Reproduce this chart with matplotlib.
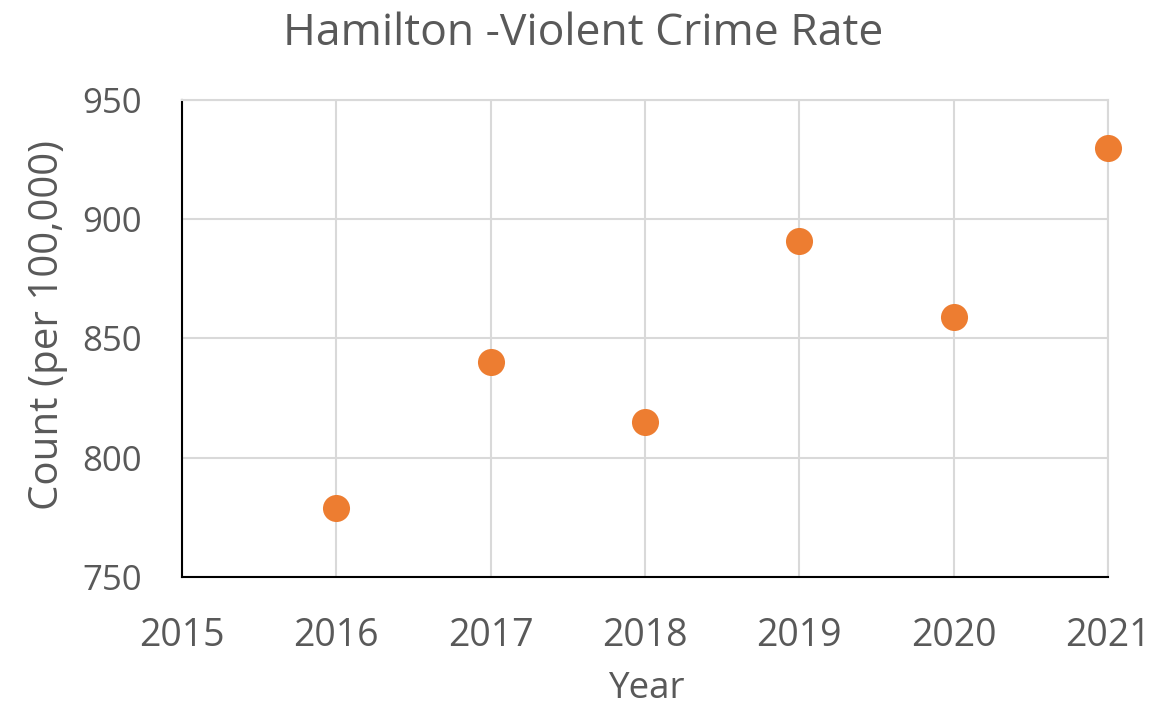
import matplotlib
matplotlib.use("Agg")
import matplotlib.pyplot as plt

# data
years = [2016, 2017, 2018, 2019, 2020, 2021]
rates = [779, 840, 815, 891, 859, 930]
x_ticks = [2015, 2016, 2017, 2018, 2019, 2020, 2021]
y_ticks = [750, 800, 850, 900, 950]

plt.rcParams['font.family'] = ['Open Sans', 'DejaVu Sans']
text_col = '#595959'
grid_col = '#D9D9D9'

W, H = 1173, 709
fig = plt.figure(figsize=(W / 100, H / 100), dpi=100)
ax = fig.add_axes([182 / W, 1 - 577 / H, 926 / W, 477 / H])

ax.scatter(years, rates, s=380, color='#ED7D31', zorder=5, clip_on=False,
           linewidths=0)

ax.set_xlim(2015, 2021)
ax.set_ylim(750, 950)
ax.set_xticks(x_ticks)
ax.set_yticks(y_ticks)
ax.grid(True, color=grid_col, linewidth=1.5)
ax.set_axisbelow(True)

for side in ['top', 'right']:
    ax.spines[side].set_color(grid_col)
    ax.spines[side].set_linewidth(1.5)
for side in ['left', 'bottom']:
    ax.spines[side].set_color('black')
    ax.spines[side].set_linewidth(1.5)

ax.tick_params(axis='x', length=0, labelsize=27, colors=text_col, pad=29)
ax.tick_params(axis='y', length=0, labelsize=25, colors=text_col, pad=29)

# labels and title placed in pixel positions of the reference
fig.text(48 / W, 1 - 325 / H, 'Count (per 100,000)', rotation=90,
         fontsize=29, color=text_col, ha='center', va='center')
fig.text(646 / W, 1 - 689 / H, 'Year', fontsize=26.5, color=text_col,
         ha='center', va='center')
fig.text(583 / W, 1 - 45 / H, 'Hamilton -Violent Crime Rate', fontsize=32,
         color=text_col, ha='center', va='baseline')

fig.savefig('out.png', dpi=100)
